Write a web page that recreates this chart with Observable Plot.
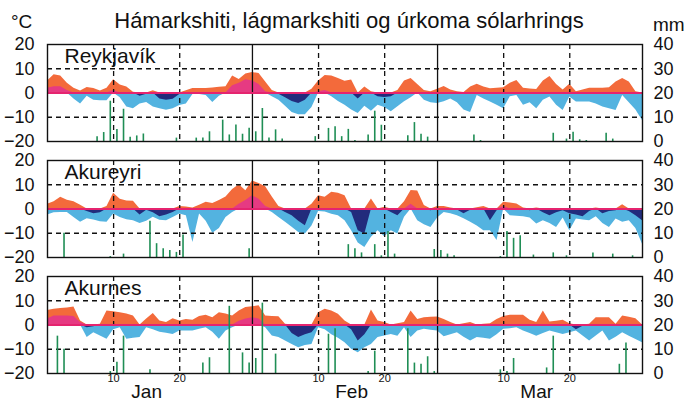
<!DOCTYPE html>
<html>
<head>
<meta charset="utf-8">
<script src="https://cdn.jsdelivr.net/npm/d3@7"></script>
<script src="https://cdn.jsdelivr.net/npm/@observablehq/plot@0.6"></script>
<style>
  body { margin: 0; background: #fff; }
  #wrap { position: relative; width: 686px; height: 403px; font-family: "Liberation Sans", Arial, Helvetica, sans-serif; color: #111; }
  .lbl { position: absolute; line-height: 1; white-space: nowrap; }
  #chart { position: absolute; left: 0; top: 0; }
</style>
</head>
<body>
<div id="wrap">
  <div id="chart"></div>
  <div class="lbl" style="left:6px;width:686px;text-align:center;top:10px;font-size:22px;">Hámarkshiti, lágmarkshiti og úrkoma sólarhrings</div>
  <div class="lbl" style="left:11px;top:12px;font-size:19px;">°C</div>
  <div class="lbl" style="left:653px;top:15px;font-size:19px;">mm</div>
</div>
<script>
// Stations (facets)
const stations = ["Reykjavík", "Akureyri", "Akurnes"];

// Daily max / min temperature (°C), read at day marks 0..90 (1 Jan – 31 Mar)
const reykjavikMax = [5,7.5,7,4,2,0.8,2.3,1.9,0.8,2,5.5,3.3,2.5,0.3,-1.3,-0.5,0.9,-2.5,-3,-2.6,-0.6,0.9,1.9,1.9,1.9,2.1,2.4,2.6,7,5.6,7.8,8.5,8,4.5,1,-0.5,-2,-3.5,-4.3,-3,1.5,5,7.2,7,6,4.8,5.4,-2.5,2.5,0.5,-1.5,-1.9,-1.5,1,5,6,3.5,1,0.5,1.5,2.7,1.2,0.5,0.2,2.5,3.6,2.5,1.8,2,2.2,4,5.2,2,1.6,1.4,5,6.8,3.5,1.2,3.6,0.5,1.2,2,2,2,2.2,4.5,6,4.5,0.5,0];
const reykjavikMin = [2,2.6,2.6,1,-2.5,-4.5,-1.3,-3,-3.2,-3.2,1,-2,-5.8,-6.5,-4.5,-3.9,-5.8,-6.5,-7.1,-6.5,-5.2,-4.5,-0.6,-0.6,-1,-3.9,-1.3,0,3,4,5.5,5,3.5,0.5,-1.5,-3,-5.5,-8,-9,-9,-6,0.5,1,-1.5,-3.5,-5,-7,-8.5,-5.5,-7.5,-5,-6,-7.7,-5.7,-3.6,-2,0,-3,-4,-4.3,-3.6,-2.5,-4,-7,-8,-1,-2.5,-3.7,-5,-6.5,-1.5,-1,-5,-4,-6.5,-3,-1.6,-5,-7.2,-1.6,-3.7,-3.7,-3.7,-4.5,-5.8,-6.5,-7.2,-1,-4,-7,-11.3];
const akureyriMax = [2,3,4.8,3.6,3,1.5,-1,-2,-1.5,1,6.5,4,3.3,3.2,-2.5,-0.5,-1.5,-3.2,-2.5,-1.4,1,0.8,0.4,1.5,2.8,2.3,3.5,5,8,10,7.5,11.5,10.5,9.2,5,1,-1.4,-2.8,-5,-6.9,2,5.5,4.8,6.9,6.5,5.5,-1.4,-9,-10.3,4.1,-0.4,0.7,-1.4,-2.8,3,7.6,7.4,1.4,-0.7,1,1,0.4,-0.4,-2,-0.5,0.5,1,-4.8,-0.7,2.8,2.5,2.1,0.4,-0.7,0.4,-1.5,-2.8,-1.5,-0.7,-2,-2.5,-3.2,-1,0.4,-2,-1,-0.7,1.8,-1,-2.8,-4.8];
const akureyriMin = [-2.5,-1.5,-1.4,-1.4,-3.5,-5.5,-4,-4.5,-5.3,-5.5,-2.1,-3.5,-4.4,-4.8,-6,-5,-3.4,-4.6,-4.8,-3.5,-2.1,-2.8,-13.8,-2.1,-5,-10,-8,-3.5,-1.4,2,3.5,5.5,4,1,-1.4,-3.5,-5.5,-7.5,-9.7,-10.3,-7,-1,-1.2,-2.2,-2.8,-4.8,-9,-14,-15.9,-11.7,-9,-11.4,-9,-10.3,-3.4,2,-4.8,-6.5,-7.6,-3.7,-1.4,-2,-2.8,-4,-5.5,-7,-9,-9,-13,1,-2.8,-3,-3.2,-3.7,-6.2,-4.8,-6,-7.6,-3.7,-9,-4.1,-4.5,-4.8,-3.2,-6,-7.6,-4.1,-5.5,-4.8,-8,-14.5];
const akurnesMax = [6,6.5,6.8,7,7.4,1.7,-1.1,-0.7,0.3,5.8,5.5,5.1,4.5,3.7,-0.4,2.5,4.7,1.7,1,2.6,1.7,2.3,2,3.5,4,3,5.1,4.5,3.7,5.8,7.2,7.5,7.9,3.7,3.5,3.4,0.3,-3.5,-5.2,-4,-3.2,5.1,6.5,5.8,4.4,1.7,-2,-6.6,-4,6.2,1.7,1,-0.4,0.5,1,5.8,2.3,3,3.2,3.3,2.3,1,-0.1,0.5,1,-0.1,0.3,0.5,2.3,3.5,4,4,4,2,1,5.8,1.2,1.5,2,0.5,-2,-0.5,0.3,3,3,3,0.3,3.7,3.2,2.6,-0.1];
const akurnesMin = [2.5,3.7,3.7,3.7,3.5,1,-5.2,-3.2,-4.5,-5.9,-2,-1.1,-5.9,-5.5,-5.2,-1.1,-2,-3,-3.4,-3.9,-2.5,-2.5,-2.5,-1.8,-1.1,-3,-5.9,-2.5,-1.1,1.5,2.5,3,2.5,-1.1,-4.5,-5.2,-6.6,-8,-9.4,-8.5,-8,-1.1,-2,-4,-5.5,-7.3,-10,-11.4,-9.4,-8,-5.2,-4.5,-3.9,-4.6,-1.1,-5.2,-2.5,-1.8,-2.2,-2.5,-4.8,-4,-3.2,-5,-6.6,-5.2,-5.5,-5.9,-4,-1.8,-1.5,-1.1,-2.5,-3.5,-4.6,-3.5,-2.5,-3.2,-3.9,-3.2,-2.5,-4.5,-6.6,-4.5,-2.5,-6.6,-5,-3.2,-4.6,-6,-7.3];

// Daily precipitation (mm), days 1..90
const reykjavikRain = [0,0,0,0,0,0,0,2,3.7,16.6, 5,13.3,1.8,2.3,3.1,0,0,0,0,1.4, 0,0,1.4,1.4,4,0,8.8,2.7,6.8,3, 5.5,4,13.6,1.4,4.8,1,0,0,0,0, 2,0,5.4,6.1,2,5,0.4,0,2.7,12.5, 6.7,0,0,0,2.4,7.8,3,1.8,0,0, 0,0,0,0,2.7,0.4,0,0,0,0, 0,0,0,0,0,0,3.4,0,1,3.8, 0.7,0.4,0,0,3.4,1,0,0,0,0];
const akureyriRain = [0,0,10,0,0,0,0,0,0,0.4, 0,1.4,0,0,0,15,5.7,3.6,2.9,2.1, 9.3,0,0,0,0,0,0,0,0,0, 3.6,0,0,0,0,0,0,0,0,0, 0,0,0,0,0,5.3,3.6,1.9,0,5.3, 0.7,10.7,1.4,0,0,0,0,0,3.3,2.9, 1.4,0.7,0,0,0,0,0,0,0.4,10.7, 7.9,9,0,1,0,0,1.9,0,0.7,0, 0,0,1.9,0,0,1.4,0,0,0.7,0];
const akurnesRain = [0,15.4,10,0,0,0,0,0,0,0.8, 4.6,15.4,0,0,0,1.5,0,0,0,0, 0,0,0,4.3,6.5,0,0,27.7,0,8.5, 4.3,6.2,29,0,8,0,0,0,0,0, 0,0,16.2,18.5,0,0,0,0,0.8,9.2, 0,0,0,0,18.5,4.3,3.8,6.9,0.8,0, 0,0,0,0,0,0,0,0,1.5,0.8, 6.2,0,0,0,0,2.3,15.4,0,0,0, 0,0,0,0,0,0,3.8,12.6,0,0];

// Axis ticks / labels
const tempTicks = [-20, -10, 0, 10, 20];
const dayTicks = [10, 20, 41, 51, 69, 79];
const dayTickLabels = ["10", "20", "10", "20", "10", "20"];
const monthStarts = [31, 59];
const monthMids = [15, 46, 74];
const monthNames = ["Jan", "Feb", "Mar"];

const tempSeries = [[reykjavikMax, reykjavikMin], [akureyriMax, akureyriMin], [akurnesMax, akurnesMin]];
const rainSeries = [reykjavikRain, akureyriRain, akurnesRain];

const temps = stations.flatMap((s, k) => tempSeries[k][0].map((mx, d) => ({station: s, d, max: mx, min: tempSeries[k][1][d]})));
// precipitation plotted on the right axis (0..40 mm ↔ -20..20 °C)
const rain = stations.flatMap((s, k) => rainSeries[k].map((mm, i) => ({station: s, day: i + 0.5, mm, y: mm - 20}))).filter(r => r.mm > 0);
const xLabels = dayTicks.map((t, i) => ({station: stations[2], pos: t, label: dayTickLabels[i]}));
const mLabels = monthMids.map((t, i) => ({station: stations[2], pos: t, label: monthNames[i]}));

const fmtMinus = d => d < 0 ? "\u2212" + Math.abs(d) : String(d);

const plot = Plot.plot({
  width: 686,
  height: 403,
  marginLeft: 47,
  marginRight: 44,
  marginTop: 44,
  marginBottom: 30,
  style: {fontFamily: "'Liberation Sans', Arial, Helvetica, sans-serif", fontSize: "18px", background: "white", color: "#111"},
  x: {domain: [0, 90], axis: null},
  y: {domain: [-20, 20]},
  fy: {domain: stations, paddingInner: 0.165, paddingOuter: 0, axis: null},
  marks: [
    Plot.areaY(temps, {x: "d", y1: 0, y2: d => Math.max(0, d.max), fy: "station", fill: "#F36A3B"}),
    Plot.areaY(temps, {x: "d", y1: 0, y2: d => Math.min(0, d.min), fy: "station", fill: "#53B3E0"}),
    Plot.areaY(temps, {x: "d", y1: 0, y2: d => Math.max(0, d.min), fy: "station", fill: "#E63A82"}),
    Plot.areaY(temps, {x: "d", y1: 0, y2: d => Math.min(0, d.max), fy: "station", fill: "#222C7C"}),
    Plot.ruleY([-10, 10], {stroke: "#111", strokeWidth: 1.3, strokeDasharray: "5,4"}),
    Plot.ruleX(dayTicks, {stroke: "#111", strokeWidth: 1.3, strokeDasharray: "5,4"}),
    Plot.ruleX(monthStarts, {stroke: "#111", strokeWidth: 1.3}),
    Plot.ruleY([0], {stroke: "#E5246F", strokeWidth: 2}),
    Plot.ruleX(rain, {x: "day", y1: -20, y2: "y", fy: "station", stroke: "#1F8E55", strokeWidth: 1.6}),
    Plot.frame({stroke: "#111", strokeWidth: 1.4}),
    Plot.text(stations, {fy: d => d, text: d => d, frameAnchor: "top-left", textAnchor: "start", lineAnchor: "top", dx: 17, dy: 4, fontSize: 21, fill: "#111"}),
    Plot.axisY({anchor: "left", ticks: tempTicks, tickFormat: fmtMinus, tickSize: 0, tickPadding: 13, fontSize: 18, label: null}),
    Plot.axisY({anchor: "right", ticks: tempTicks, tickFormat: d => String(d + 20), tickSize: 0, tickPadding: 11, fontSize: 18, label: null}),
    Plot.text(xLabels, {x: "pos", fy: "station", text: "label", frameAnchor: "bottom", lineAnchor: "top", dy: 1, fontSize: 11, fill: "#111"}),
    Plot.text(mLabels, {x: "pos", fy: "station", text: "label", frameAnchor: "bottom", lineAnchor: "top", dy: 11, fontSize: 19, fill: "#111"})
  ]
});
document.getElementById("chart").appendChild(plot);
</script>
</body>
</html>
